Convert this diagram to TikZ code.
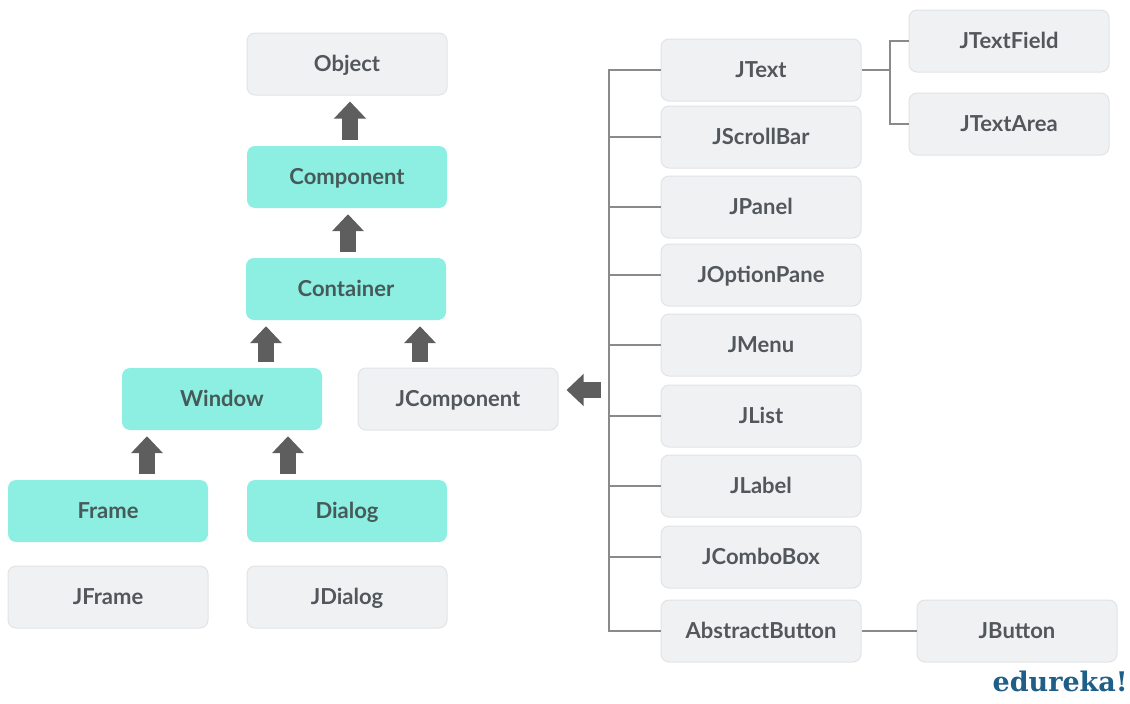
\documentclass[tikz,border=0pt]{standalone}
\usepackage{fontspec}
\setmainfont{Lato}
\newfontfamily\logofont{DejaVu Serif}
\usetikzlibrary{arrows.meta}
\definecolor{boxgray}{HTML}{F0F1F3}
\definecolor{boxedge}{HTML}{E1E3E6}
\definecolor{boxteal}{HTML}{8DEEE2}
\definecolor{txtteal}{HTML}{465B59}
\definecolor{txtgray}{HTML}{52575C}
\definecolor{arrowgray}{HTML}{5E5E5E}
\definecolor{linegray}{HTML}{8A8A8A}
\definecolor{logoblue}{HTML}{1F5E86}
\tikzset{
  x=1pt, y=-1pt,
  cls/.style={rounded corners=8pt, minimum width=200pt, minimum height=62pt,
    inner sep=0pt, text height=18pt, text depth=2.2pt,
    font=\fontsize{22}{26}\selectfont\bfseries},
  swing/.style={cls, fill=boxgray, draw=boxedge, line width=1pt, text=txtgray},
  awt/.style={cls, fill=boxteal, text=txtteal},
  fatarrow/.style={draw=arrowgray, line width=16pt,
    -{Triangle[width=31pt, length=17pt]}, shorten <=6pt, shorten >=6pt},
  conn/.style={draw=linegray, line width=1.6pt}
}
\begin{document}
\begin{tikzpicture}
\useasboundingbox (0,0) rectangle (1130,704);

% AWT / Swing hierarchy on the left
\node[swing] (object)    at (347,64)  {Object};
\node[awt]   (component) at (347,177) {Component};
\node[awt]   (container) at (346,289) {Container};
\node[awt]   (window)    at (222,399) {Window};
\node[swing] (jcomp)     at (458,399) {JComponent};
\node[awt]   (frame)     at (108,511) {Frame};
\node[awt]   (dialog)    at (347,511) {Dialog};
\node[swing] (jframe)    at (108,597) {JFrame};
\node[swing] (jdialog)   at (347,597) {JDialog};

% JComponent subclasses
\node[swing] (jtext)      at (761,70)  {JText};
\node[swing] (jscroll)    at (761,137) {JScrollBar};
\node[swing] (jpanel)     at (761,207) {JPanel};
\node[swing] (joption)    at (761,275) {JOptionPane};
\node[swing] (jmenu)      at (761,345) {JMenu};
\node[swing] (jlist)      at (761,416) {JList};
\node[swing] (jlabel)     at (761,486) {JLabel};
\node[swing] (jcombo)     at (761,557) {JComboBox};
\node[swing] (abstractb)  at (761,631) {AbstractButton};
\node[swing] (jtextfield) at (1009,41)  {JTextField};
\node[swing] (jtextarea)  at (1009,124) {JTextArea};
\node[swing] (jbutton)    at (1017,631) {JButton};

% inheritance arrows
\coordinate (a1) at (350,0);
\coordinate (a2) at (348,0);
\coordinate (a3) at (266,0);
\coordinate (a4) at (420,0);
\coordinate (a5) at (147,0);
\coordinate (a6) at (288,0);
\draw[fatarrow] (component.north -| a1) -- (object.south -| a1);
\draw[fatarrow] (container.north -| a2) -- (component.south -| a2);
\draw[fatarrow] (window.north -| a3) -- (container.south -| a3);
\draw[fatarrow] (jcomp.north -| a4) -- (container.south -| a4);
\draw[fatarrow] (frame.north -| a5) -- (window.south -| a5);
\draw[fatarrow] (dialog.north -| a6) -- (window.south -| a6);

% tree of JComponent subclasses
\coordinate (trunk) at (609,0);
\coordinate (fork) at (890,0);
\draw[conn] (jtext.west) -- (jtext.west -| trunk) -- (abstractb.west -| trunk) -- (abstractb.west);
\foreach \n in {jscroll,jpanel,joption,jmenu,jlist,jlabel,jcombo}
  \draw[conn] (\n.west) -- (\n.west -| trunk);
\draw[conn] (jtext.east) -- (jtext.east -| fork);
\draw[conn] (jtextfield.west) -- (jtextfield.west -| fork) -- (jtextarea.west -| fork) -- (jtextarea.west);
\draw[conn] (abstractb.east) -- (jbutton.west);

% arrow from the subclass tree to JComponent
\coordinate (tail) at (609,390);
\draw[fatarrow, shorten <=8pt, shorten >=8pt] (tail) -- (tail -| jcomp.east);

% logo
\node[anchor=east, inner sep=0pt, text=logoblue, font=\logofont\fontsize{27}{30}\selectfont\bfseries] (logo) at (1128,681) {edureka!};
\end{tikzpicture}
\end{document}
